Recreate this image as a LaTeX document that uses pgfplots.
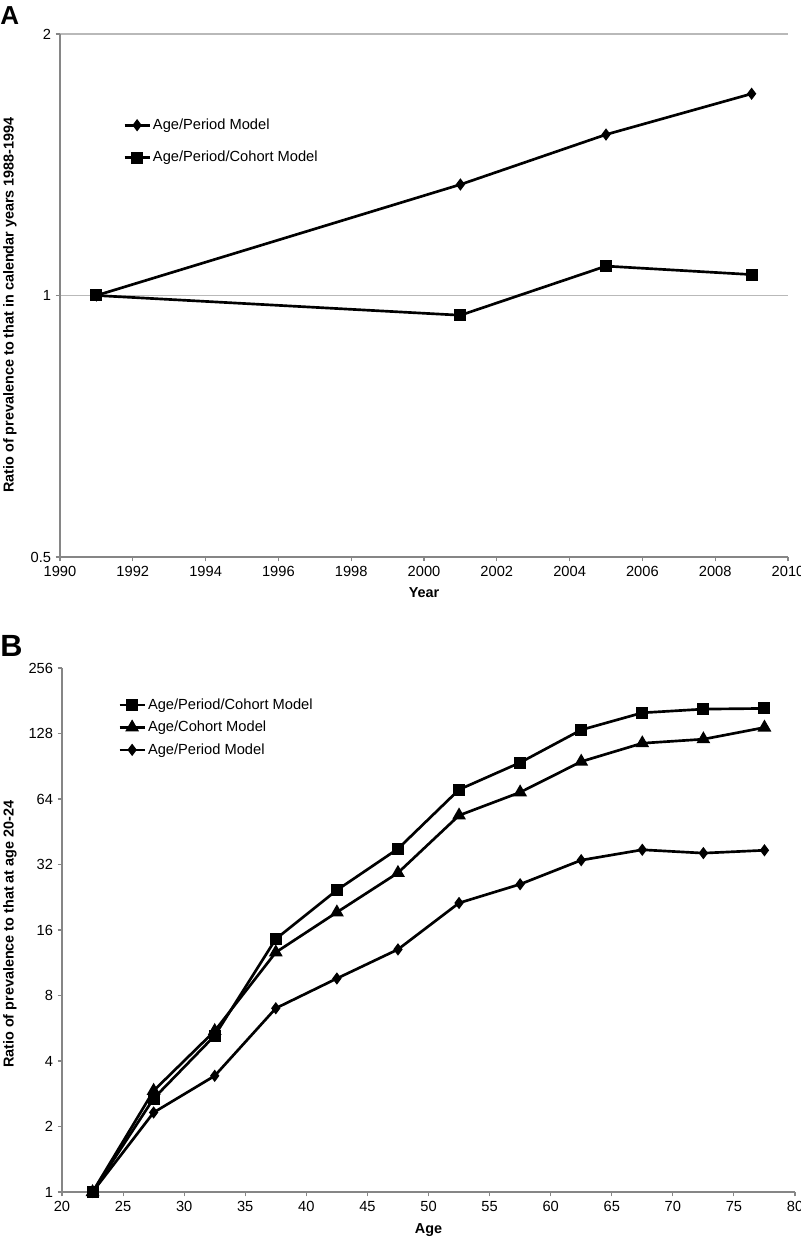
\documentclass[border=0pt]{standalone}
\usepackage{fontspec}
\setmainfont{Liberation Sans}
\usepackage{pgfplots}
\pgfplotsset{compat=1.18}
\definecolor{axgray}{RGB}{134,134,134}
\definecolor{gridgray}{RGB}{185,185,185}

\pgfplotsset{
  common/.style={
    scale only axis,
    axis lines=left,
    axis line style={axgray, line width=0.8pt, -},
    tick style={axgray, line width=0.8pt},
    tick align=outside,
    major tick length=3.2pt,
    minor tick num=0,
    /pgf/number format/assume math mode=true,
    /pgf/number format/1000 sep={},
    ticklabel style={font=\fontsize{11}{13}\selectfont, black},
    label style={font=\fontsize{10.8}{13}\selectfont\bfseries, black},
    every axis plot/.append style={black, line width=2pt},
    legend cell align=left,
    legend image code/.code={\draw[mark repeat=2,mark phase=2,##1] plot coordinates {(0pt,0pt)(9.4pt,0pt)(18.8pt,0pt)};},
    legend style={draw=none, fill=none, font=\fontsize{11}{13}\selectfont, inner sep=0pt, nodes={inner sep=1.5pt}},
  },
}

\begin{document}
\begin{tikzpicture}
\useasboundingbox (0,0) rectangle (600pt,-927.75pt);
\node[anchor=base west, inner sep=0pt, font=\fontsize{19.5}{22}\selectfont\bfseries] at (0pt,-18.75pt) {A};
\node[anchor=base west, inner sep=0pt, font=\fontsize{23}{26}\selectfont\bfseries] at (0pt,-492pt) {B};

% Panel A
\begin{axis}[
  common,
  at={(45pt,-25.5pt)}, anchor=north west,
  width=546pt, height=392.25pt,
  xmin=1990, xmax=2010, ymin=0.5, ymax=2,
  ymode=log, log basis y=2,
  xtick={1990,1992,...,2010},
  ytick={0.5,1,2}, yticklabels={0.5,1,2},
  ymajorgrids, grid style={gridgray, line width=0.8pt},
  xlabel={Year},
  ylabel={Ratio of prevalence to that in calendar years 1988-1994},
  xlabel style={at={(axis description cs:0.5,-0.0688)}, anchor=center},
  ylabel style={at={(axis description cs:-0.0687,0.482)}, anchor=center},
  legend style={at={(axis description cs:0.0865,0.842)}, anchor=north west, row sep=11.75pt},
]
\addplot[mark=diamond*, mark size=3pt, mark options={solid}] coordinates {
  (1991,1.0) (2001,1.342) (2005,1.532) (2009,1.707)};
\addlegendentry{Age/Period Model}
\addplot[mark=square*, mark size=3.5pt, mark options={solid}] coordinates {
  (1991,1.0) (2001,0.949) (2005,1.081) (2009,1.057)};
\addlegendentry{Age/Period/Cohort Model}
\end{axis}

% Panel B
\begin{axis}[
  common,
  at={(46.5pt,-501pt)}, anchor=north west,
  width=549.75pt, height=393pt,
  xmin=20, xmax=80, ymin=1, ymax=256,
  ymode=log, log basis y=2,
  xtick={20,25,...,80},
  ytick={1,2,4,8,16,32,64,128,256}, yticklabels={1,2,4,8,16,32,64,128,256},
  xlabel={Age},
  ylabel={Ratio of prevalence to that at age 20-24},
  xlabel style={at={(axis description cs:0.5,-0.0725)}, anchor=center},
  ylabel style={at={(axis description cs:-0.0709,0.492)}, anchor=center},
  legend style={at={(axis description cs:0.0764,0.946)}, anchor=north west, row sep=4.4pt},
]
\addplot[mark=square*, mark size=3.5pt, mark options={solid}] coordinates {
  (22.5,1) (27.5,2.69) (32.5,5.23) (37.5,14.55) (42.5,24.4) (47.5,37.8)
  (52.5,70.7) (57.5,94.1) (62.5,133) (67.5,159.4) (72.5,165.7) (77.5,166.9)};
\addlegendentry{Age/Period/Cohort Model}
\addplot[mark=triangle*, mark size=4pt, mark options={solid}] coordinates {
  (22.5,1) (27.5,2.92) (32.5,5.50) (37.5,12.63) (42.5,19.3) (47.5,29.3)
  (52.5,53.8) (57.5,68.7) (62.5,95.1) (67.5,115.5) (72.5,120.5) (77.5,136.4)};
\addlegendentry{Age/Cohort Model}
\addplot[mark=diamond*, mark size=3pt, mark options={solid}] coordinates {
  (22.5,1) (27.5,2.32) (32.5,3.42) (37.5,6.99) (42.5,9.58) (47.5,13.03)
  (52.5,21.3) (57.5,25.97) (62.5,33.5) (67.5,37.4) (72.5,36.1) (77.5,37.2)};
\addlegendentry{Age/Period Model}
\end{axis}
\end{tikzpicture}
\end{document}
